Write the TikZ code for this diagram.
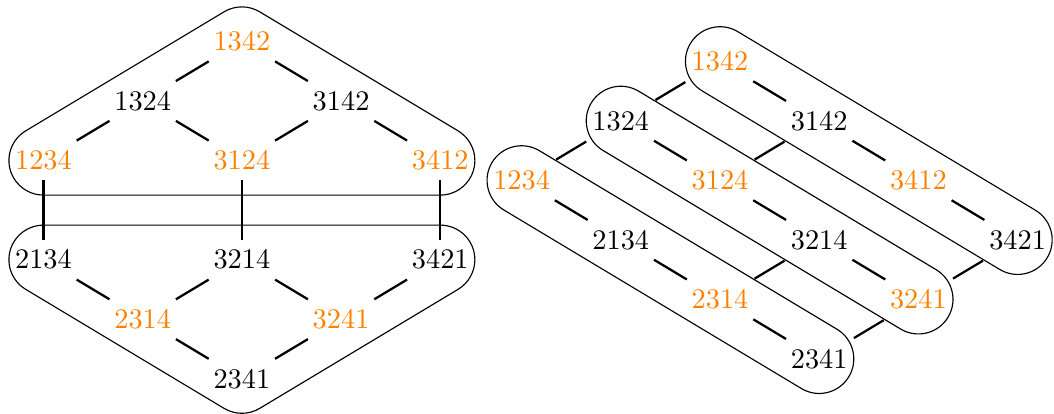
\documentclass[tikz,border=0pt]{standalone}
\usetikzlibrary{calc}
\newcommand\rr{12.2pt}
\newcommand\drawstrip[2]{\draw[hull] ($(#1.center)+(59.04:\rr)$) -- ($(#2.center)+(59.04:\rr)$) arc[start angle=59.04, end angle=-120.96, radius=\rr] -- ($(#1.center)+(-120.96:\rr)$) arc[start angle=239.04, end angle=59.04, radius=\rr] -- cycle;}
\begin{document}
\begin{tikzpicture}[x=35pt,y=35pt,
  perm/.style={inner sep=3.333pt, font=\fontsize{10}{12}\selectfont},
  hl/.style={perm, text=orange},
  edge/.style={line width=0.8pt},
  link/.style={line width=0.8pt, shorten <=0.6pt, shorten >=0.6pt},
  hull/.style={line width=0.4pt}]
\useasboundingbox (-0.4385,-2.555) rectangle (10.187,1.618);
% left diagram
\node[hl]   (L1342) at (2,1.2) {1342};
\node[perm] (L1324) at (1,0.6) {1324};
\node[perm] (L3142) at (3,0.6) {3142};
\node[hl]   (L1234) at (0,0) {1234};
\node[hl]   (L3124) at (2,0) {3124};
\node[hl]   (L3412) at (4,0) {3412};
\node[perm] (L2134) at (0,-1) {2134};
\node[perm] (L3214) at (2,-1) {3214};
\node[perm] (L3421) at (4,-1) {3421};
\node[hl]   (L2314) at (1,-1.6) {2314};
\node[hl]   (L3241) at (3,-1.6) {3241};
\node[perm] (L2341) at (2,-2.2) {2341};
\draw[hull] ($(L1342.center)+(120.96:\rr)$) -- ($(L1234.center)+(120.96:\rr)$)
  arc[start angle=120.96, end angle=270, radius=\rr]
  -- ($(L3412.center)+(270:\rr)$) arc[start angle=-90, end angle=59.04, radius=\rr]
  -- ($(L1342.center)+(59.04:\rr)$) arc[start angle=59.04, end angle=120.96, radius=\rr] -- cycle;
\draw[hull] ($(L2134.center)+(90:\rr)$) -- ($(L3421.center)+(90:\rr)$)
  arc[start angle=90, end angle=-59.04, radius=\rr]
  -- ($(L2341.center)+(-59.04:\rr)$) arc[start angle=-59.04, end angle=-120.96, radius=\rr]
  -- ($(L2134.center)+(-120.96:\rr)$) arc[start angle=-120.96, end angle=-270, radius=\rr] -- cycle;
\draw[edge] (L1342) -- (L1324);
\draw[edge] (L1342) -- (L3142);
\draw[edge] (L1324) -- (L1234);
\draw[edge] (L1324) -- (L3124);
\draw[edge] (L3142) -- (L3124);
\draw[edge] (L3142) -- (L3412);
\draw[edge] (L1234) -- (L2134);
\draw[edge] (L3124) -- (L3214);
\draw[edge] (L3412) -- (L3421);
\draw[edge] (L2134) -- (L2314);
\draw[edge] (L3214) -- (L2314);
\draw[edge] (L3214) -- (L3241);
\draw[edge] (L3421) -- (L3241);
\draw[edge] (L2314) -- (L2341);
\draw[edge] (L3241) -- (L2341);
% right diagram
\begin{scope}[shift={(4.82,-0.2)}]
\node[hl]   (R1234) at (0,0) {1234};
\node[perm] (R2134) at (1,-0.6) {2134};
\node[hl]   (R2314) at (2,-1.2) {2314};
\node[perm] (R2341) at (3,-1.8) {2341};
\node[perm] (R1324) at (1,0.6) {1324};
\node[hl]   (R3124) at (2,0) {3124};
\node[perm] (R3214) at (3,-0.6) {3214};
\node[hl]   (R3241) at (4,-1.2) {3241};
\node[hl]   (R1342) at (2,1.2) {1342};
\node[perm] (R3142) at (3,0.6) {3142};
\node[hl]   (R3412) at (4,0) {3412};
\node[perm] (R3421) at (5,-0.6) {3421};
\end{scope}
\drawstrip{R1342}{R3421}
\drawstrip{R1324}{R3241}
\drawstrip{R1234}{R2341}
\draw[edge] (R1342) -- (R3142);
\draw[edge] (R3142) -- (R3412);
\draw[edge] (R3412) -- (R3421);
\draw[edge] (R1324) -- (R3124);
\draw[edge] (R3124) -- (R3214);
\draw[edge] (R3214) -- (R3241);
\draw[edge] (R1234) -- (R2134);
\draw[edge] (R2134) -- (R2314);
\draw[edge] (R2314) -- (R2341);
\draw[link] (R1342) -- (R1324);
\draw[link] (R1324) -- (R1234);
\draw[link] (R3142) -- (R3124);
\draw[link] (R3214) -- (R2314);
\draw[link] (R3421) -- (R3241);
\draw[link] (R3241) -- (R2341);
\end{tikzpicture}
\end{document}
